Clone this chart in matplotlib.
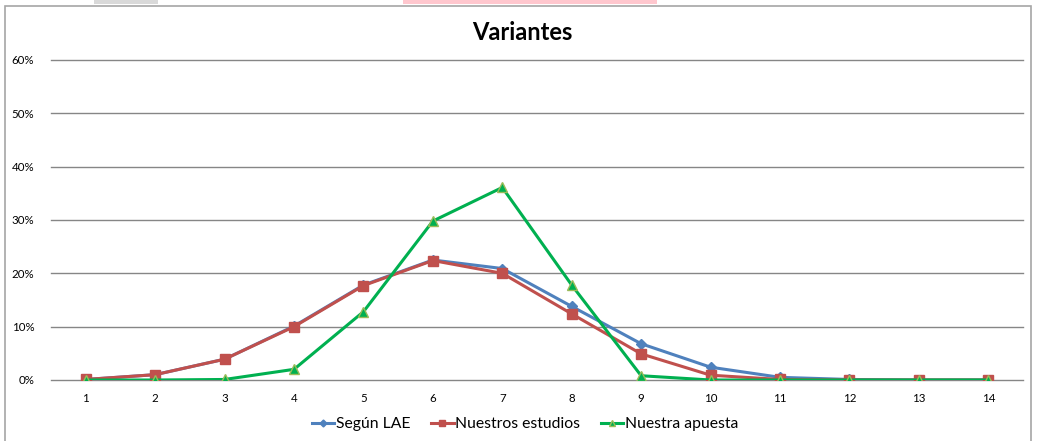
import matplotlib
matplotlib.use("Agg")
import matplotlib.pyplot as plt
from matplotlib.patches import Rectangle
from matplotlib.ticker import PercentFormatter

plt.rcParams['font.family'] = ['Lato', 'DejaVu Sans']

categories = list(range(1, 15))
segun_lae = [0.1, 1.0, 3.9, 10.1, 17.8, 22.5, 20.9, 13.8, 6.8, 2.4, 0.5, 0.1, 0.0, 0.0]
nuestros_estudios = [0.1, 1.0, 3.9, 10.0, 17.7, 22.4, 20.0, 12.4, 4.9, 0.9, 0.1, 0.0, 0.0, 0.0]
nuestra_apuesta = [0.0, 0.0, 0.1, 2.0, 12.8, 29.8, 36.1, 17.8, 0.8, 0.0, 0.0, 0.0, 0.0, 0.0]
yticks = [0, 10, 20, 30, 40, 50, 60]

W, H = 1037, 441
fig = plt.figure(figsize=(W / 100, H / 100), dpi=100)
fig.patch.set_facecolor('white')

# chart border
fig.patches.append(Rectangle((5 / W, -0.01), 1026 / W, 1 - 6 / H + 0.01,
                             transform=fig.transFigure, fill=False,
                             edgecolor='#a6a6a6', linewidth=1.2))
# spreadsheet remnants at top
fig.patches.append(Rectangle((94 / W, 1 - 4 / H), 64 / W, 4 / H,
                             transform=fig.transFigure, facecolor='#d9d9d9', edgecolor='none'))
fig.patches.append(Rectangle((403 / W, 1 - 4 / H), 254 / W, 4 / H,
                             transform=fig.transFigure, facecolor='#ffc7ce', edgecolor='none'))

ax = fig.add_axes([51 / W, 1 - 380 / H, (1023 - 51) / W, 320 / H])
ax.set_xlim(0.5, 14.5)
ax.set_ylim(0, 60)
ax.set_yticks(yticks)
ax.yaxis.set_major_formatter(PercentFormatter(decimals=0))
ax.set_xticks(categories)
ax.grid(axis='y', color='#868686', linewidth=1)
for gl in ax.get_ygridlines():
    gl.set_clip_on(False)
ax.set_axisbelow(True)
for s in ax.spines.values():
    s.set_visible(False)
ax.tick_params(axis='both', length=0, labelsize=8.3, colors='black')
ax.tick_params(axis='y', pad=12)
ax.tick_params(axis='x', pad=9)

ax.plot(categories, segun_lae, color='#4f81bd', linewidth=2.2, marker='D',
        markersize=5, markerfacecolor='#4f81bd', markeredgecolor='#4f81bd', label='Según LAE')
ax.plot(categories, nuestros_estudios, color='#c0504d', linewidth=2.2, marker='s',
        markersize=7, markerfacecolor='#c0504d', markeredgecolor='#c0504d', label='Nuestros estudios')
ax.plot(categories, nuestra_apuesta, color='#00b050', linewidth=2.2, marker='^',
        markersize=7, markerfacecolor='#00b050', markeredgecolor='#9bbb59', label='Nuestra apuesta')

fig.text(522 / W, 1 - 32 / H, 'Variantes', ha='center', va='center',
         fontsize=17, fontweight='bold')

leg = fig.legend(loc='center', bbox_to_anchor=(525 / W, 1 - 424 / H), ncol=3,
                 frameon=False, fontsize=11.3, handlelength=1.45, handletextpad=0.1,
                 columnspacing=1.3, markerscale=0.7)

fig.savefig('out.png', dpi=100)
